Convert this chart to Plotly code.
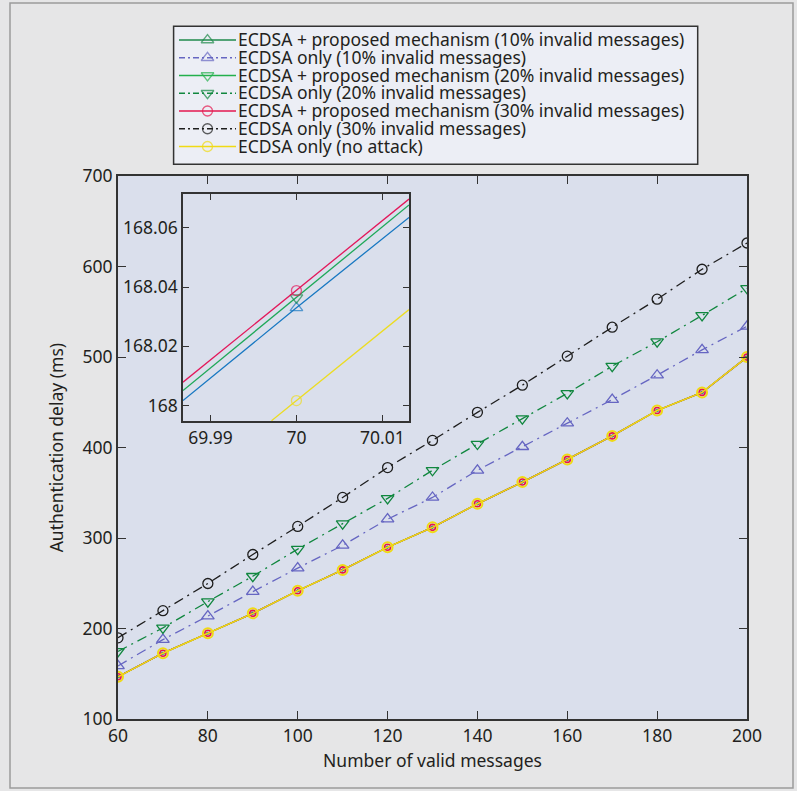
import plotly.graph_objects as go

# ---------------- data ----------------
messages = [60, 70, 80, 90, 100, 110, 120, 130, 140, 150, 160, 170, 180, 190, 200]

only_10 = [159, 188, 214, 241, 267, 292, 321, 345, 375, 401, 427, 453, 480, 508, 534]
only_20 = [175, 201, 230, 258, 288, 316, 344, 375, 404, 432, 460, 490, 517, 546, 576]
only_30 = [190, 220, 250, 282, 313, 345, 378, 408, 439, 469, 501, 533, 564, 597, 626]
no_attack = [147, 173, 195, 217, 242, 265, 290, 312, 338, 362, 387, 413, 441, 461, 500]
proposed_10 = [147, 173, 195, 217, 242, 265, 290, 312, 338, 362, 387, 413, 441, 461, 500]
proposed_20 = [147, 173, 195, 217, 242, 265, 290, 312, 338, 362, 387, 413, 441, 461, 500]
proposed_30 = [147, 173, 195, 217, 242, 265, 290, 312, 338, 362, 387, 413, 441, 461, 500]

# inset (zoom around 70 messages)
inset_x = [69.9868, 70.0, 70.0131]
inset_proposed_10 = [168.0017, 168.0330, 168.0635]
inset_proposed_20 = [168.0051, 168.0364, 168.0677]
inset_proposed_30 = [168.0079, 168.0388, 168.0697]
inset_x_no_attack = [69.9971, 70.0, 70.0131]
inset_no_attack = [167.9949, 168.0017, 168.0324]

x_ticks = [60, 80, 100, 120, 140, 160, 180, 200]
y_ticks = [100, 200, 300, 400, 500, 600, 700]
inset_x_ticks = [69.99, 70, 70.01]
inset_x_labels = ["69.99", "70", "70.01"]
inset_y_ticks = [168, 168.02, 168.04, 168.06]
inset_y_labels = ["168", "168.02", "168.04", "168.06"]

names = [
    "ECDSA + proposed mechanism (10% invalid messages)",
    "ECDSA only (10% invalid messages)",
    "ECDSA + proposed mechanism (20% invalid messages)",
    "ECDSA only (20% invalid messages)",
    "ECDSA + proposed mechanism (30% invalid messages)",
    "ECDSA only (30% invalid messages)",
    "ECDSA only (no attack)",
]

# ---------------- styles ----------------
FONT = "Noto Sans"
TXT = "#231f20"
FS = 17.5
C_P10 = "#1f8a4c"
C_O10 = "#6666c2"
C_P20 = "#23b04c"
C_O20 = "#11873f"
C_P30 = "#e5174f"
C_O30 = "#1e1e1e"
C_NA = "#f0da14"
DASHDOT = "10px,5px,2px,5px"

W, H = 797, 791


def px_x(p):
    return p / W


def px_y(p):
    return 1 - p / H


fig = go.Figure()

# proposed series on main chart (coincide with the no-attack curve)
fig.add_trace(go.Scatter(x=messages, y=proposed_10, mode="lines+markers", name=names[0],
                         line=dict(color=C_P10, width=1.3),
                         marker=dict(symbol="triangle-up", size=4, color="#1a8a8a")))
fig.add_trace(go.Scatter(x=messages, y=proposed_20, mode="lines+markers", name=names[2],
                         line=dict(color=C_P20, width=1.3),
                         marker=dict(symbol="triangle-down", size=4, color="#1f9a6a")))
fig.add_trace(go.Scatter(x=messages, y=proposed_30, mode="lines+markers", name=names[4],
                         line=dict(color=C_P30, width=1.3),
                         marker=dict(symbol="circle-open", size=6, color=C_P30, line=dict(width=1.6))))

# ECDSA only series
fig.add_trace(go.Scatter(x=messages, y=only_10, mode="lines+markers", name=names[1],
                         line=dict(color=C_O10, width=1.3, dash=DASHDOT),
                         marker=dict(symbol="triangle-up-open", size=11, color=C_O10, line=dict(width=1.3))))
fig.add_trace(go.Scatter(x=messages, y=only_20, mode="lines+markers", name=names[3],
                         line=dict(color=C_O20, width=1.3, dash=DASHDOT),
                         marker=dict(symbol="triangle-down-open", size=11, color=C_O20, line=dict(width=1.3))))
fig.add_trace(go.Scatter(x=messages, y=only_30, mode="lines+markers", name=names[5],
                         line=dict(color=C_O30, width=1.3, dash=DASHDOT),
                         marker=dict(symbol="circle-open", size=10, color=C_O30, line=dict(width=1.3))))
fig.add_trace(go.Scatter(x=messages, y=no_attack, mode="lines+markers", name=names[6],
                         line=dict(color=C_NA, width=1.5),
                         marker=dict(symbol="circle-open", size=10, color=C_NA, line=dict(width=2))))

# inset traces
fig.add_trace(go.Scatter(x=inset_x_no_attack, y=inset_no_attack, xaxis="x2", yaxis="y2", mode="lines+markers",
                         name=names[6], line=dict(color="#ecdc22", width=1.3),
                         marker=dict(symbol="circle-open", size=[0, 10, 0], color="#ecdc22", line=dict(width=1.3))))
fig.add_trace(go.Scatter(x=inset_x, y=inset_proposed_10, xaxis="x2", yaxis="y2", mode="lines+markers",
                         name=names[0], line=dict(color="#1878c2", width=1.3),
                         marker=dict(symbol="triangle-up-open", size=[0, 11, 0], color="#1878c2", line=dict(width=1.3))))
fig.add_trace(go.Scatter(x=inset_x, y=inset_proposed_20, xaxis="x2", yaxis="y2", mode="lines+markers",
                         name=names[2], line=dict(color="#1ea858", width=1.3),
                         marker=dict(symbol="triangle-down-open", size=[0, 11, 0], color="#178a48", line=dict(width=1.3))))
fig.add_trace(go.Scatter(x=inset_x, y=inset_proposed_30, xaxis="x2", yaxis="y2", mode="lines+markers",
                         name=names[4], line=dict(color="#e3175a", width=1.3),
                         marker=dict(symbol="circle-open", size=[0, 10, 0], color="#e3175a", line=dict(width=1.3))))

# ---------------- legend (own small axes: sample line + marker, series name as tick label) ----------------
legend_styles = [
    (C_P10, "solid", "triangle-up-open", 11),
    (C_O10, "6px,3px,2px,3px", "triangle-up-open", 11),
    (C_P20, "solid", "triangle-down-open", 11),
    (C_O20, "6px,3px,2px,3px", "triangle-down-open", 11),
    (C_P30, "solid", "circle-open", 10),
    (C_O30, "6px,3px,2px,3px", "circle-open", 10),
    (C_NA, "solid", "circle-open", 10),
]
sample_x = [0, 0.5, 1]
for nm, (col, dash, sym, sz) in zip(names, legend_styles):
    fig.add_trace(go.Scatter(x=sample_x, y=[nm] * 3, xaxis="x3", yaxis="y3", mode="lines+markers",
                             name=nm, hoverinfo="skip",
                             line=dict(color=col, width=1.3, dash=dash),
                             marker=dict(symbol=sym, size=[0, sz, 0], color=col, line=dict(width=1.3))))

axis_common = dict(showgrid=False, zeroline=False, showline=True, linecolor="#333333",
                   ticks="inside", mirror="ticks", tickcolor="#333333",
                   tickfont=dict(family=FONT, size=FS, color=TXT))

main_dom_x = [px_x(118), px_x(747)]
main_dom_y = [px_y(719.3), px_y(176)]
inset_dom_x = [px_x(183), px_x(409)]
inset_dom_y = [px_y(421), px_y(194)]

LEG_L, LEG_R, LEG_T, LEG_B = 173.6, 697.7, 26.2, 164.3
leg_row_top, leg_row_bot = 31.1, 155.4

fig.update_layout(
    width=W, height=H,
    showlegend=False,
    margin=dict(l=0, r=0, t=0, b=0, autoexpand=False),
    paper_bgcolor="#e6e6e7",
    plot_bgcolor="#dadfec",
    font=dict(family=FONT, color=TXT),
    xaxis=dict(**axis_common, domain=main_dom_x, anchor="y", range=[60, 200], tickvals=x_ticks,
               ticklen=8, linewidth=2,
               title=dict(text="Number of valid messages", font=dict(family=FONT, size=FS, color=TXT), standoff=8)),
    yaxis=dict(**axis_common, domain=main_dom_y, anchor="x", range=[100, 700], tickvals=y_ticks,
               ticklen=8, linewidth=2,
               title=dict(text="Authentication delay (ms)", font=dict(family=FONT, size=FS, color=TXT), standoff=14)),
    xaxis2=dict(**axis_common, domain=inset_dom_x, anchor="y2", range=[69.9868, 70.0131],
                tickvals=inset_x_ticks, ticktext=inset_x_labels, ticklen=6, linewidth=1.5),
    yaxis2=dict(**axis_common, domain=inset_dom_y, anchor="x2", range=[167.9948, 168.0714],
                tickvals=inset_y_ticks, ticktext=inset_y_labels, ticklen=6, linewidth=1.5),
    xaxis3=dict(domain=[px_x(179), px_x(236)], anchor="y3", range=[0, 1], visible=False, fixedrange=True),
    yaxis3=dict(domain=[px_y(leg_row_bot), px_y(leg_row_top)], anchor="x3", side="right",
                type="category", categoryorder="array", categoryarray=names[::-1], range=[-0.5, 6.5],
                tickmode="array", tickvals=names, ticktext=names,
                showgrid=False, zeroline=False, showline=False, ticks="", fixedrange=True,
                ticklabelstandoff=1,
                tickfont=dict(family=FONT, size=17.5, color=TXT)),
    shapes=[
        dict(type="rect", xref="paper", yref="paper", layer="below",
             x0=px_x(10), x1=px_x(793), y0=px_y(788), y1=px_y(3),
             fillcolor="rgba(0,0,0,0)", line=dict(color="#9c9c9c", width=1.5)),
        dict(type="rect", xref="paper", yref="paper", layer="below",
             x0=px_x(LEG_L), x1=px_x(LEG_R), y0=px_y(LEG_B), y1=px_y(LEG_T),
             fillcolor="#eceef5", line=dict(color="#333333", width=1.5)),
        dict(type="rect", xref="paper", yref="paper", layer="below",
             x0=inset_dom_x[0], x1=inset_dom_x[1], y0=inset_dom_y[0], y1=inset_dom_y[1],
             fillcolor="#ebeef6", line=dict(width=0)),
    ],
)

# remove the browser's default 8px page margin so the figure fills the window exactly
fig.write_html("out.html",
               config={"displayModeBar": False},
               post_script="document.body.style.margin='0px';document.body.style.overflow='hidden';")
